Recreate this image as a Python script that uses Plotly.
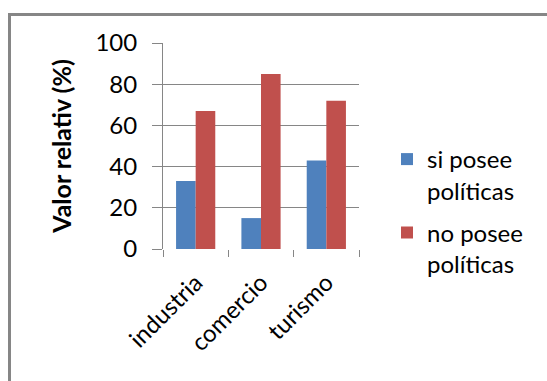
import plotly.graph_objects as go

categories = ["industria", "comercio", "turismo"]
si_posee = [33, 15, 43]
no_posee = [67, 85, 72]
series_names = ["si posee<br>políticas", "no posee<br>políticas"]
y_ticks = [0, 20, 40, 60, 80, 100]

FONT = "Lato"
GRAY = "#868686"

fig = go.Figure()
fig.add_trace(go.Bar(x=categories, y=si_posee, name=series_names[0], legendgroup="si",
                     marker=dict(color="#4F81BD", line=dict(width=0))))
fig.add_trace(go.Bar(x=categories, y=no_posee, name=series_names[1], legendgroup="no",
                     marker=dict(color="#C0504D", line=dict(width=0))))

W, H = 547, 381
L, R, T, B = 163, 188, 43, 132
pw, ph = W - L - R, H - T - B


def px_to_paper(xp, yp):
    return (xp - L) / pw, (H - B - yp) / ph


# outer chart frame (left and top edges)
x0, y0 = px_to_paper(9.5, 14.5)
_, ybot = px_to_paper(0, 400)
x1, _ = px_to_paper(547, 0)
fig.add_shape(type="path", xref="paper", yref="paper",
              path=f"M {x0} {ybot} L {x0} {y0} L {x1} {y0}",
              line=dict(color=GRAY, width=3))

fig.update_layout(
    width=W, height=H,
    margin=dict(l=L, r=R, t=T, b=B, pad=0),
    paper_bgcolor="white", plot_bgcolor="white",
    barmode="group", bargap=0.4, bargroupgap=0,
    font=dict(family=FONT, color="#000000"),
    showlegend=True,
    legend=dict(x=(387 - L) / pw, xanchor="left", y=px_to_paper(0, 137)[1], yanchor="top",
                font=dict(family=FONT, size=24, color="#000000"),
                valign="top", tracegroupgap=8, itemwidth=30,
                bgcolor="rgba(0,0,0,0)"),
    xaxis=dict(type="category", tickson="boundaries", ticks="outside", ticklen=7,
               tickcolor=GRAY, tickwidth=1, showline=False, showgrid=False,
               tickangle=-45, ticklabelstandoff=14,
               tickfont=dict(family=FONT, size=24, color="#000000")),
    yaxis=dict(range=[0, 100], tickvals=y_ticks, ticks="outside", ticklen=10,
               tickcolor=GRAY, tickwidth=1, showline=True, linecolor=GRAY, linewidth=1,
               showgrid=True, gridcolor=GRAY, gridwidth=1, zeroline=False,
               ticklabelstandoff=10,
               tickfont=dict(family=FONT, size=24, color="#000000"),
               title=dict(text="<b>Valor relativ (%)</b>", standoff=16,
                          font=dict(family=FONT, size=25, color="#000000"))),
)

fig.write_html("out.html")
